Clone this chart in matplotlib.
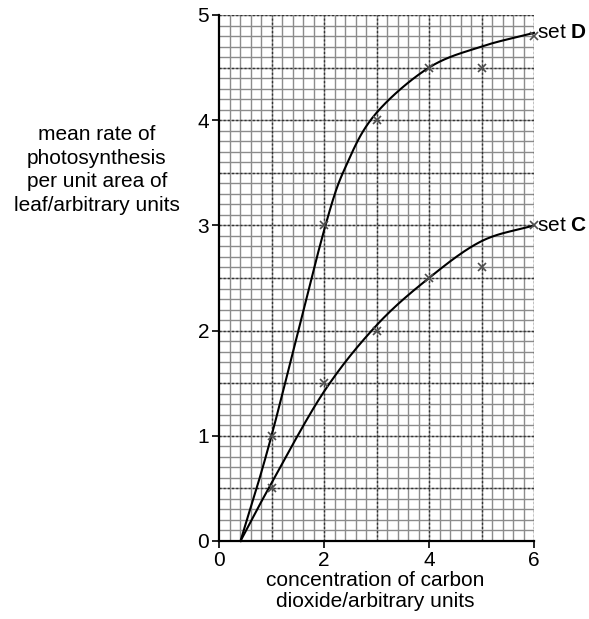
import numpy as np
import matplotlib
matplotlib.use("Agg")
import matplotlib.pyplot as plt

plt.rcParams['font.family'] = ['Liberation Sans', 'DejaVu Sans']
plt.rcParams['mathtext.fontset'] = 'custom'
plt.rcParams['mathtext.rm'] = 'Liberation Sans'
plt.rcParams['mathtext.bf'] = 'Liberation Sans:bold'

# measured points (crosses)
co2 = [1, 2, 3, 4, 5, 6]
set_d_points = [1.0, 3.0, 4.0, 4.5, 4.5, 4.8]
set_c_points = [0.5, 1.5, 2.0, 2.5, 2.6, 3.0]

# hand-drawn best-fit curves
d_curve_x = [0.41, 1.0, 2.0, 2.45, 3.0, 4.0, 5.0, 6.0]
d_curve_y = [0.0, 1.0, 2.95, 3.6, 4.07, 4.5, 4.7, 4.83]
c_curve_x = [0.41, 1.0, 2.0, 3.0, 4.0, 5.0, 6.0]
c_curve_y = [0.0, 0.55, 1.42, 2.05, 2.5, 2.85, 3.0]

x_ticks = [0, 2, 4, 6]
y_ticks = [0, 1, 2, 3, 4, 5]


def smooth(xs, ys, n=30):
    # Catmull-Rom spline through the read points (drawing only)
    P = np.column_stack([xs, ys]).astype(float)
    P = np.vstack([P[0] - (P[1] - P[0]), P, P[-1] + (P[-1] - P[-2])])
    out = []
    t = np.linspace(0, 1, n, endpoint=False)
    for i in range(1, len(P) - 2):
        p0, p1, p2, p3 = P[i - 1], P[i], P[i + 1], P[i + 2]
        tt = t[:, None]
        seg = 0.5 * ((2 * p1) + (-p0 + p2) * tt + (2 * p0 - 5 * p1 + 4 * p2 - p3) * tt ** 2
                     + (-p0 + 3 * p1 - 3 * p2 + p3) * tt ** 3)
        out.append(seg)
    out.append(P[-2][None, :])
    out = np.vstack(out)
    return out[:, 0], out[:, 1]


fig = plt.figure(figsize=(5.89, 6.19), dpi=100)
ax = fig.add_axes([219 / 589, 1 - 541 / 619, (534 - 219) / 589, (541 - 15) / 619])
ax.set_xlim(0, 6)
ax.set_ylim(0, 5)

# graph paper
for xv in np.arange(0.2, 6.01, 0.2):
    ax.axvline(xv, color='0.55', lw=1.0, zorder=1)
for yv in np.arange(0.1, 5.01, 0.1):
    ax.axhline(yv, color='0.55', lw=1.0, zorder=1)
for xv in np.arange(1, 6.01, 1):
    ax.axvline(xv, color='0.2', lw=1.0, ls=(0, (1.5, 1.5)), zorder=1.5)
for yv in np.arange(0.5, 5.01, 0.5):
    ax.axhline(yv, color='0.2', lw=1.0, ls=(0, (1.5, 1.5)), zorder=1.5)

for xs, ys in [(d_curve_x, d_curve_y), (c_curve_x, c_curve_y)]:
    sx, sy = smooth(xs, ys)
    ax.plot(sx, sy, color='black', lw=1.5, zorder=3, clip_on=False)

ax.plot(co2, set_d_points, ls='none', marker='x', ms=6, mew=1.2, color='0.3', zorder=4, clip_on=False)
ax.plot(co2, set_c_points, ls='none', marker='x', ms=6, mew=1.2, color='0.3', zorder=4, clip_on=False)

ax.text(6.05, 4.83, r'set $\mathbf{D}$', fontsize=15, va='center', ha='left')
ax.text(6.05, 3.0, r'set $\mathbf{C}$', fontsize=15, va='center', ha='left')

for s in ['top', 'right']:
    ax.spines[s].set_visible(False)
for s in ['left', 'bottom']:
    ax.spines[s].set_linewidth(1.6)
    ax.spines[s].set_zorder(5)

ax.set_xticks(x_ticks)
ax.set_yticks(y_ticks)
ax.set_xticklabels([str(v) for v in x_ticks])
ax.set_yticklabels([str(v) for v in y_ticks])
ax.tick_params(axis='both', direction='out', length=5, width=1.2, labelsize=15, pad=2)

fig.text(97 / 589, 1 - 170 / 619,
         'mean rate of\nphotosynthesis\nper unit area of\nleaf/arbitrary units',
         ha='center', va='center', fontsize=15, linespacing=1.3)
fig.text(375 / 589, 1 - 591 / 619,
         'concentration of carbon\ndioxide/arbitrary units',
         ha='center', va='center', fontsize=15, linespacing=1.1)

fig.savefig('out.png', dpi=100)
